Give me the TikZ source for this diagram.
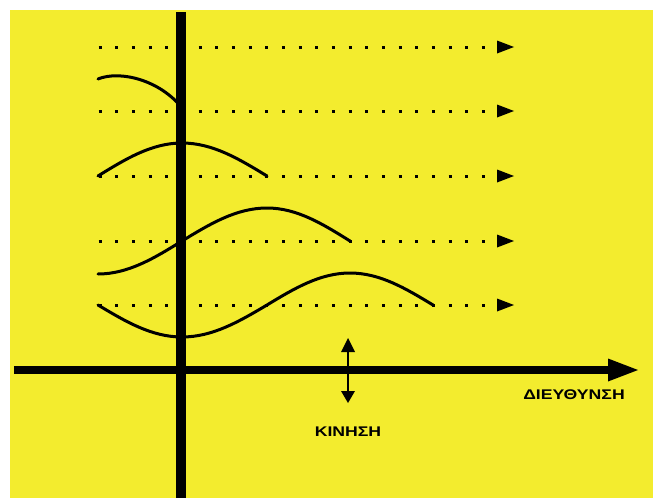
\documentclass[tikz,border=0pt]{standalone}
\usepackage{fontspec}
\newfontfamily\labfont{Liberation Sans}
\definecolor{bgyellow}{RGB}{243,236,46}
\tikzset{
  dotline/.style={line width=3pt, dash pattern=on 3pt off 13.667pt},
  dottip/.style={fill=black},
  wave/.style={line width=3pt, line cap=round},
  lab/.style={font=\labfont\bfseries\fontsize{14}{14}\selectfont, inner sep=0pt}
}
\begin{document}
\begin{tikzpicture}[x=1pt,y=-1pt]
\useasboundingbox (0,0) rectangle (653,498);
\fill[white] (0,0) rectangle (653,498);
\fill[bgyellow] (10,10) rectangle (653,498);
% dotted lines with arrowheads
\foreach \yy/\nm in {47/a,111/b,176/c,241/d,305/e}{
  \coordinate (ds\nm) at (98.5,\yy);
  \coordinate (de\nm) at (486,\yy);
  \draw[dotline] (ds\nm) -- (de\nm);
  \fill[dottip] (497,\yy-6.5) -- (514,\yy) -- (497,\yy+6.5) -- cycle;
}
% waves
\draw[wave] (98,79) .. controls (120,70) and (160,80) .. (182,108);
\draw[wave] (98,176) sin (182,143) cos (267,176);
\draw[wave] (98,274) cos (182,241) sin (267,208) cos (350,241);
\draw[wave] (98,305) sin (182,337) cos (267,305) sin (350,273) cos (433,305);
% vertical line
\coordinate (vtop) at (181,12);
\coordinate (vbot) at (181,498);
\draw[line width=10.5pt] (vtop) -- (vbot);
% horizontal axis
\coordinate (hl) at (14,370);
\coordinate (hr) at (609,370);
\draw[line width=8.5pt] (hl) -- (hr);
\fill (608,358.5) -- (638,370) -- (608,381.5) -- cycle;
% motion double arrow
\coordinate (mt) at (348,351);
\coordinate (mb) at (348,392);
\draw[line width=1.5pt] (mt) -- (mb);
\fill (341,352) -- (348,338) -- (355,352) -- cycle;
\fill (341,391) -- (348,403) -- (355,391) -- cycle;
% labels
\node[lab] (dir) at (574,395) {\scalebox{1.26}[1]{ΔΙΕΥΘΥΝΣΗ}};
\node[lab] (mot) at (348,432) {\scalebox{1.26}[1]{ΚΙΝΗΣΗ}};
\end{tikzpicture}
\end{document}
